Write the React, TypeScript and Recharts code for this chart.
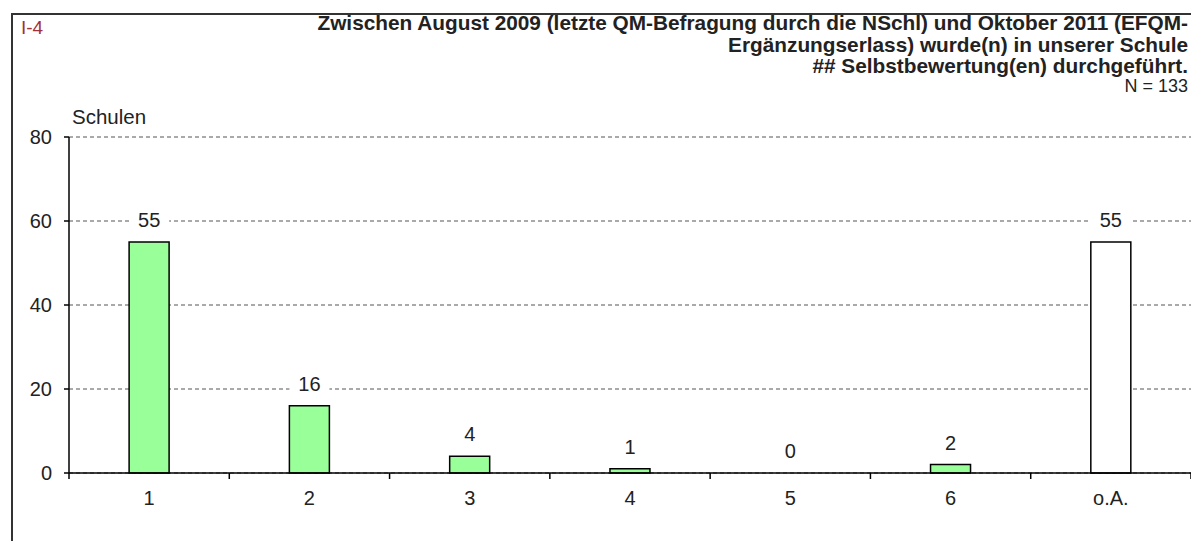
import React from 'react'
import { ComposedChart, Bar, Line, Cell, XAxis, YAxis, CartesianGrid, LabelList } from 'recharts'

const categories = ['1', '2', '3', '4', '5', '6', 'o.A.']
const schulen = [55, 16, 4, 1, 0, 2, 55]
const yTicks = [0, 20, 40, 60, 80]

const titleLines = [
  'Zwischen August 2009 (letzte QM-Befragung durch die NSchl) und Oktober 2011 (EFQM-',
  'Ergänzungserlass) wurde(n) in unserer Schule',
  '## Selbstbewertung(en) durchgeführt.',
]

const data = categories.map((c, i) => ({ name: c, value: schulen[i] }))

const W = 1199
const H = 549
const margin = { top: 137, right: 8, left: 9, bottom: 46 }
const yAxisWidth = 60
const plotW = W - margin.left - margin.right - yAxisWidth
const band = plotW / categories.length
const font = '"Liberation Sans", Arial, sans-serif'

function XTick(props: any) {
  const { x, y, payload, index } = props
  return (
    <g>
      <line x1={x - band / 2} x2={x - band / 2} y1={y} y2={y + 6} stroke="#000" strokeWidth={1.5} />
      {index === categories.length - 1 && (
        <line x1={x + band / 2} x2={x + band / 2} y1={y} y2={y + 6} stroke="#000" strokeWidth={1.5} />
      )}
      <text x={x} y={y + 32} textAnchor="middle" fontSize={20} fill="#222" fontFamily={font}>
        {payload.value}
      </text>
    </g>
  )
}

// white-boxed label above the bar top (point of the invisible line)
function ValueLabel(props: any) {
  const { x, y, value } = props
  const cy = y - 22
  const w = String(value).length * 12 + 16
  return (
    <g>
      <rect x={x - w / 2} y={cy - 12} width={w} height={24} fill="#fff" />
      <text x={x} y={cy + 7} textAnchor="middle" fontSize={20} fill="#222" fontFamily={font}>
        {value}
      </text>
    </g>
  )
}

export default function App() {
  return (
    <div style={{ position: 'relative', width: W, height: H, margin: -8, overflow: 'hidden', background: '#fff', fontFamily: font }}>
      <div style={{ position: 'absolute', left: 11, top: 13, width: 1184, height: 560, border: '2px solid #333', boxSizing: 'border-box' }} />
      <div style={{ position: 'absolute', left: 21, top: 17, fontSize: 19, color: '#a0303a' }}>I-4</div>
      <div style={{ position: 'absolute', right: 11, top: 12, textAlign: 'right', fontSize: 20.8, fontWeight: 'bold', lineHeight: '21.5px', color: '#222' }}>
        {titleLines.map((t) => (
          <div key={t}>{t}</div>
        ))}
      </div>
      <div style={{ position: 'absolute', right: 11, top: 76, fontSize: 18, color: '#222' }}>N = 133</div>
      <div style={{ position: 'absolute', left: 72, top: 105, fontSize: 20.5, color: '#222' }}>Schulen</div>
      <div style={{ position: 'absolute', left: 0, top: 0 }}>
        <ComposedChart width={W} height={H} data={data} margin={margin} barCategoryGap="37.5%">
          <CartesianGrid vertical={false} strokeDasharray="4 3" stroke="#555" />
          <XAxis
            dataKey="name"
            height={30}
            tickLine={false}
            tickSize={0}
            tickMargin={0}
            axisLine={{ stroke: '#000', strokeWidth: 1.5 }}
            tick={<XTick />}
            interval={0}
          />
          <YAxis
            width={yAxisWidth}
            domain={[0, 80]}
            ticks={yTicks}
            tickSize={5}
            tickMargin={12}
            axisLine={{ stroke: '#000', strokeWidth: 1.5 }}
            tickLine={{ stroke: '#000', strokeWidth: 1.5 }}
            tick={{ fontSize: 20, fill: '#222', fontFamily: font }}
          />
          <Bar dataKey="value" stroke="#000" strokeWidth={1.5} isAnimationActive={false}>
            {data.map((d, i) => (
              <Cell key={d.name} fill={i === categories.length - 1 ? '#ffffff' : '#99ff99'} />
            ))}
          </Bar>
          <Line dataKey="value" stroke="none" dot={false} activeDot={false} isAnimationActive={false}>
            <LabelList dataKey="value" content={<ValueLabel />} />
          </Line>
        </ComposedChart>
      </div>
    </div>
  )
}
